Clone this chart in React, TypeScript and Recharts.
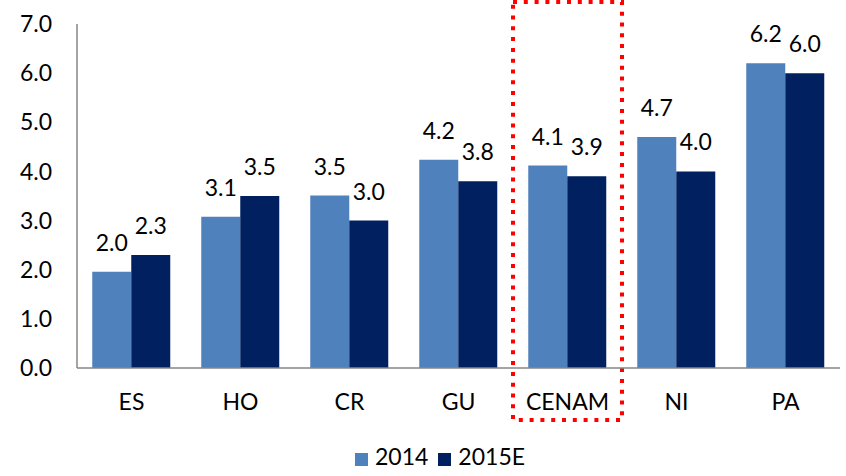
import { BarChart, Bar, XAxis, YAxis, Legend, LabelList, ReferenceArea } from 'recharts';

const categories = ['ES', 'HO', 'CR', 'GU', 'CENAM', 'NI', 'PA'];
const values2014 = [1.96, 3.08, 3.51, 4.24, 4.12, 4.7, 6.2];
const values2015E = [2.3, 3.5, 3.0, 3.8, 3.9, 4.0, 6.0];
const labels2014 = ['2.0', '3.1', '3.5', '4.2', '4.1', '4.7', '6.2'];
const labels2015E = ['2.3', '3.5', '3.0', '3.8', '3.9', '4.0', '6.0'];
const yTicks = [0, 1, 2, 3, 4, 5, 6, 7];

const data = categories.map((c, i) => ({
  name: c,
  y2014: values2014[i],
  y2015E: values2015E[i],
  l2014: labels2014[i],
  l2015E: labels2015E[i],
}));

const FONT = 'Lato, "Noto Sans", sans-serif';
const FS = 23;

export default function App() {
  return (
    <div style={{ position: 'absolute', left: 0, top: 0, fontFamily: FONT }}>
      <BarChart
        width={846}
        height={476}
        data={data}
        margin={{ top: 24, right: 6, left: 0, bottom: 6 }}
        barCategoryGap="14%"
        barGap={0}
      >
        <XAxis
          dataKey="name"
          axisLine={{ stroke: '#868686', strokeWidth: 1.5 }}
          tickLine={false}
          tickMargin={20}
          height={74}
          tick={{ fill: '#000', fontSize: FS, fontFamily: FONT }}
        />
        <YAxis
          width={77}
          domain={[0, 7]}
          ticks={yTicks}
          tickFormatter={(v: number) => v.toFixed(1)}
          axisLine={{ stroke: '#868686', strokeWidth: 1.5 }}
          tickLine={false}
          tickMargin={19}
          tick={{ fill: '#000', fontSize: FS, fontFamily: FONT }}
        />
        <ReferenceArea
          x1="CENAM"
          x2="CENAM"
          y1={-1.06}
          y2={7.45}
          ifOverflow="visible"
          fill="none"
          fillOpacity={0}
          stroke="#ff0000"
          strokeWidth={4}
          strokeDasharray="4 6.8"
        />
        <Legend
          verticalAlign="bottom"
          align="center"
          iconType="square"
          iconSize={13}
          wrapperStyle={{ fontSize: FS, fontFamily: FONT, paddingLeft: 25 }}
          formatter={(value: string) => <span style={{ color: '#000', marginLeft: 3 }}>{value}</span>}
        />
        <Bar dataKey="y2014" name="2014" fill="#4f81bd" isAnimationActive={false}>
          <LabelList dataKey="l2014" position="top" offset={21} style={{ fill: '#000', fontSize: FS, fontFamily: FONT }} />
        </Bar>
        <Bar dataKey="y2015E" name="2015E" fill="#002060" isAnimationActive={false}>
          <LabelList dataKey="l2015E" position="top" offset={21} style={{ fill: '#000', fontSize: FS, fontFamily: FONT }} />
        </Bar>
      </BarChart>
    </div>
  );
}
